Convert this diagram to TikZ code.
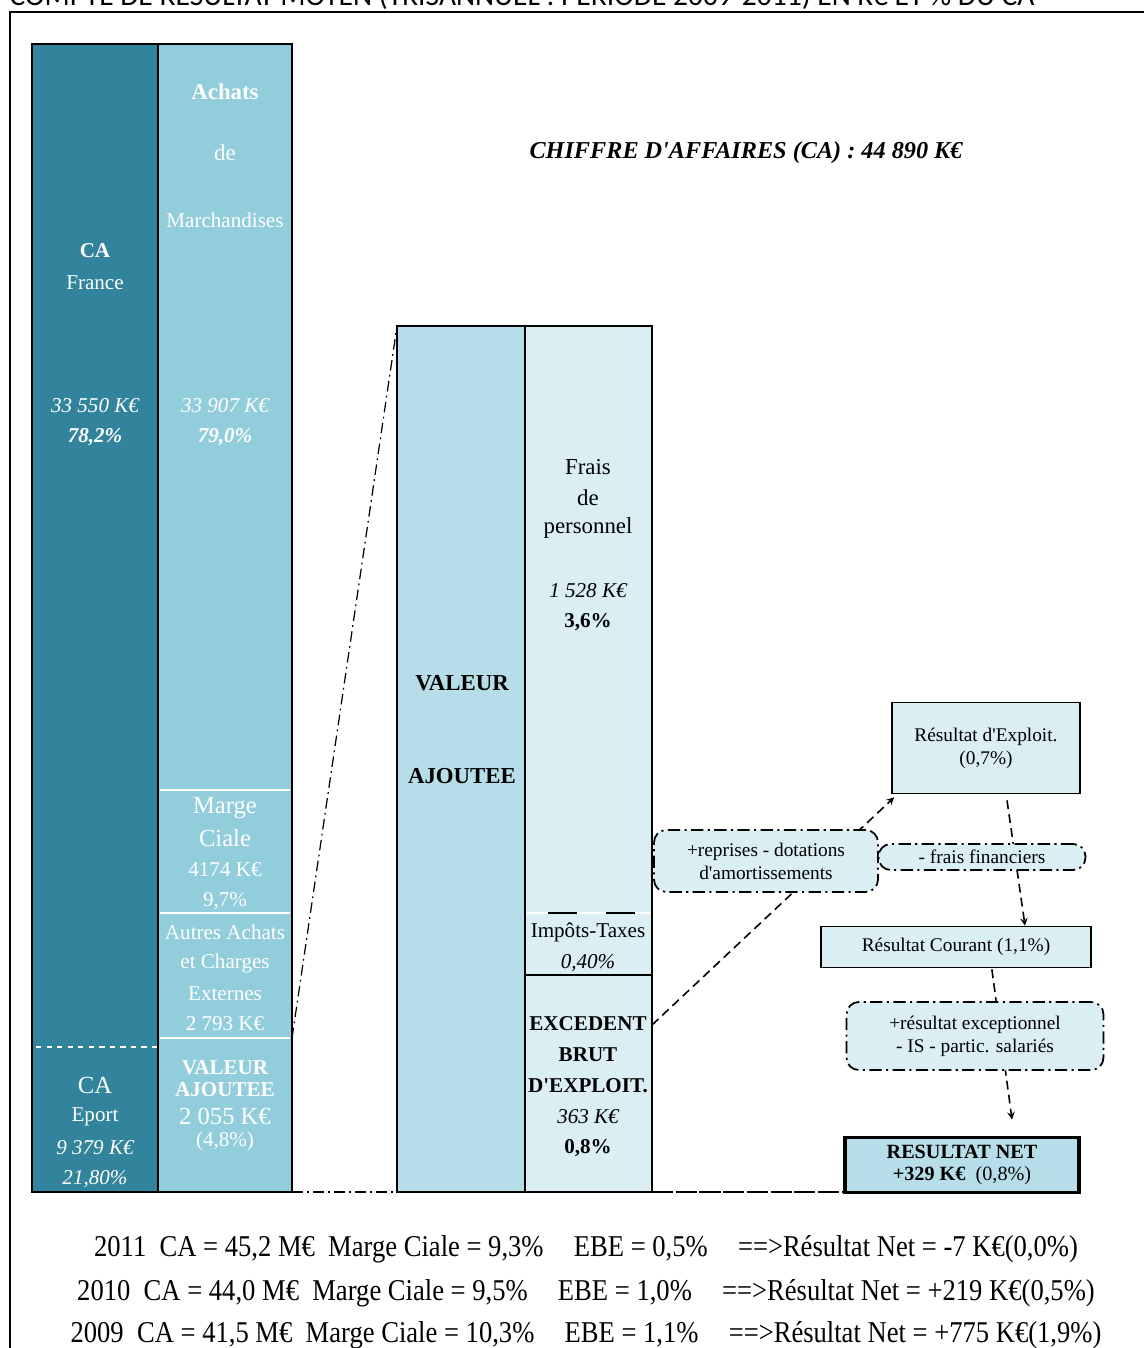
\documentclass[tikz,border=0pt]{standalone}
\usepackage{fontspec}
\setmainfont{Liberation Serif}
\newfontfamily\titrefont{Carlito}
\newfontfamily\basfont[FakeStretch=0.88]{Liberation Serif}
\usetikzlibrary{positioning, calc, arrows.meta, backgrounds}
\newcommand{\apos}{\textquotesingle}

\begin{document}
\begin{tikzpicture}[x=0.02cm, y=-0.02cm,
    blanc/.style={text=white, inner sep=0pt, font=\fontsize{12}{14}\selectfont},
    noir/.style={text=black, inner sep=0pt, font=\fontsize{12}{14}\selectfont},
    boite/.style={draw=black, line width=1pt, fill=bleupale, align=center, inner sep=2pt, font=\fontsize{11}{13}\selectfont},
    boitept/.style={boite, rounded corners=7pt, dash pattern=on 7pt off 2.5pt on 1.2pt off 2.5pt},
    pointille/.style={line width=0.7pt, dash pattern=on 6pt off 2.5pt on 1pt off 2.5pt},
    fleche/.style={->, >=stealth, line width=0.9pt, dash pattern=on 5pt off 3pt}]
        % Couleurs
        \definecolor{tealfonce}{RGB}{49, 132, 155}
        \definecolor{tealclair}{RGB}{146, 205, 220}
        \definecolor{bleumoyen}{RGB}{183, 222, 232}
        \definecolor{bleupale}{RGB}{218, 238, 243}

        % 1. Cadre et titre (coupe en haut)
        \useasboundingbox (0,0) rectangle (1143,1348);
        \node[anchor=base, inner sep=0pt, font=\titrefont\fontsize{16.8}{18}\selectfont] (titre) at (522,6)
            {COMPTE DE RESULTAT MOYEN (TRISANNUEL : PERIODE 2009-2011) EN K€ ET \% DU CA};
        \draw[line width=1pt] (1160,12) -- (10,12) -- (10,1360);

        % 2. Colonnes CA et Achats
        \fill[tealfonce] (32,44) rectangle (158,1192);
        \fill[tealclair] (158,44) rectangle (292,1192);
        \foreach \y in {790, 913, 1038}
            \draw[white, line width=1.5pt] (160,\y) -- (290,\y);
        \draw[white, dashed, line width=1pt] (36,1047) -- (158,1047);
        \draw[line width=1.5pt] (32,44) rectangle (292,1192) (158,44) -- (158,1192);

        \foreach \txt/\y [count=\i] in {{\bfseries CA}/251, France/283, {\itshape 33 550 K€}/406,
                {\bfseries\itshape 78,2\%}/437, {\fontsize{14}{16}\selectfont CA}/1085, Eport/1117,
                {\itshape 9 379 K€}/1148, {\itshape 21,80\%}/1179}
            \node[blanc] (cafr\i) at (95,\y) {\txt};

        \foreach \txt/\y [count=\i] in {{\fontsize{13}{15}\selectfont\bfseries Achats}/92,
                {\fontsize{13}{15}\selectfont de}/153, Marchandises/220, {\itshape 33 907 K€}/406,
                {\bfseries\itshape 79,0\%}/437, {\fontsize{14}{16}\selectfont Marge}/808,
                {\fontsize{14}{16}\selectfont Ciale}/838, 4174 K€/870, {9,7\%}/901,
                Autres Achats/932, et Charges/963, Externes/994, 2 793 K€/1024,
                {\bfseries VALEUR}/1068, {\bfseries AJOUTEE}/1090,
                {\fontsize{14}{16}\selectfont 2 055 K€}/1116, {(4,8\%)}/1141}
            \node[blanc] (ach\i) at (225,\y) {\txt};

        % 3. Bloc valeur ajoutee
        \fill[bleumoyen] (397,326) rectangle (525,1192);
        \fill[bleupale] (525,326) rectangle (652,1192);
        \draw[white, line width=1.5pt] (527,913) -- (650,913);
        \foreach \xa in {548, 606}
            \draw[line width=1.5pt] (\xa,913) -- ++(29,0);
        \draw[line width=1pt] (525,975) -- (652,975);
        \draw[line width=1.5pt] (397,326) rectangle (652,1192) (525,326) -- (525,1192);

        \node[noir, font=\fontsize{13}{15}\selectfont\bfseries] (va1) at (462,683) {VALEUR};
        \node[noir, font=\fontsize{13}{15}\selectfont\bfseries] (va2) at (462,776) {AJOUTEE};

        \foreach \txt/\y [count=\i] in {{\fontsize{13}{15}\selectfont Frais}/467,
                {\fontsize{13}{15}\selectfont de}/498, {\fontsize{13}{15}\selectfont personnel}/528,
                {\itshape 1 528 K€}/591, {\bfseries 3,6\%}/622, Impôts-Taxes/932,
                {\itshape 0,40\%}/963, {\bfseries EXCEDENT}/1024, {\bfseries BRUT}/1055,
                {\bfseries D\apos EXPLOIT.}/1086, {\itshape 363 K€}/1117, {\bfseries 0,8\%}/1148}
            \node[noir] (fp\i) at (588,\y) {\txt};

        \node[noir, font=\fontsize{13.8}{15}\selectfont\bfseries\itshape] (caht) at (746,153)
            {CHIFFRE D\apos AFFAIRES (CA) : 44 890 K€};

        % 4. Soldes intermediaires
        \node[boite, minimum width=3.76cm, minimum height=1.82cm] (rexp) at (986,748)
            {Résultat d\apos Exploit.\\(0,7\%)};
        \node[boitept, minimum width=4.48cm, minimum height=1.24cm] (repr) at (766,861)
            {+reprises - dotations\\d\apos amortissements};
        \node[boitept, minimum width=4.14cm, minimum height=0.52cm, inner sep=0pt] (ffin) at (982,857)
            {- frais financiers};
        \node[boite, minimum width=5.4cm, minimum height=0.82cm] (rcour) at (956,947)
            {Résultat Courant (1,1\%)};
        \node[boitept, minimum width=5.14cm, minimum height=1.36cm] (rexc) at (975,1036)
            {+résultat exceptionnel\\- IS - partic. salariés};
        \node[boite, fill=bleumoyen, line width=2.2pt, minimum width=4.68cm, minimum height=1.1cm,
            font=\fontsize{11.5}{13}\selectfont] (rnet) at (962,1165)
            {\textbf{RESULTAT NET}\\\textbf{+329 K€} \ (0,8\%)};

        % 5. Liaisons
        \coordinate (vahaut) at (292,1038);
        \coordinate (blocnw) at (397,326);
        \coordinate (cabas) at (292,1192);
        \coordinate (blocsw) at (397,1192);
        \coordinate (blocse) at (652,1192);
        \coordinate (ebe) at (652,1025);
        \draw[pointille] (vahaut) -- (blocnw);
        \draw[pointille] (cabas) -- (blocsw);
        \draw[line width=0.9pt, dash pattern=on 12pt off 1.5pt] (blocse) -- (blocse -| rnet.west);
        \begin{scope}[on background layer]
            \draw[fleche] (ebe) -- ($(rexp.south west)+(3,3)$);
            \draw[fleche] ($(rexp.south)+(21,6)$) -- ($(rcour.north)+(69,0)$);
            \draw[fleche] ($(rcour.south)+(34,-13)$) -- ($(rnet.north)+(50,-16)$);
        \end{scope}

        % 6. Rappel des trois exercices
        \foreach \txt/\y [count=\i] in {
                {2011\ \ CA = 45,2 M€\ \ Marge Ciale = 9,3\%\quad EBE = 0,5\%\quad ==>Résultat Net = -7 K€(0,0\%)}/1249,
                {2010\ \ CA = 44,0 M€\ \ Marge Ciale = 9,5\%\quad EBE = 1,0\%\quad ==>Résultat Net = +219 K€(0,5\%)}/1293,
                {2009\ \ CA = 41,5 M€\ \ Marge Ciale = 10,3\%\quad EBE = 1,1\%\quad ==>Résultat Net = +775 K€(1,9\%)}/1335}
            \node[noir, font=\basfont\fontsize{17.2}{19}\selectfont] (an\i) at (586,\y) {\txt};

    \end{tikzpicture}
\end{document}
